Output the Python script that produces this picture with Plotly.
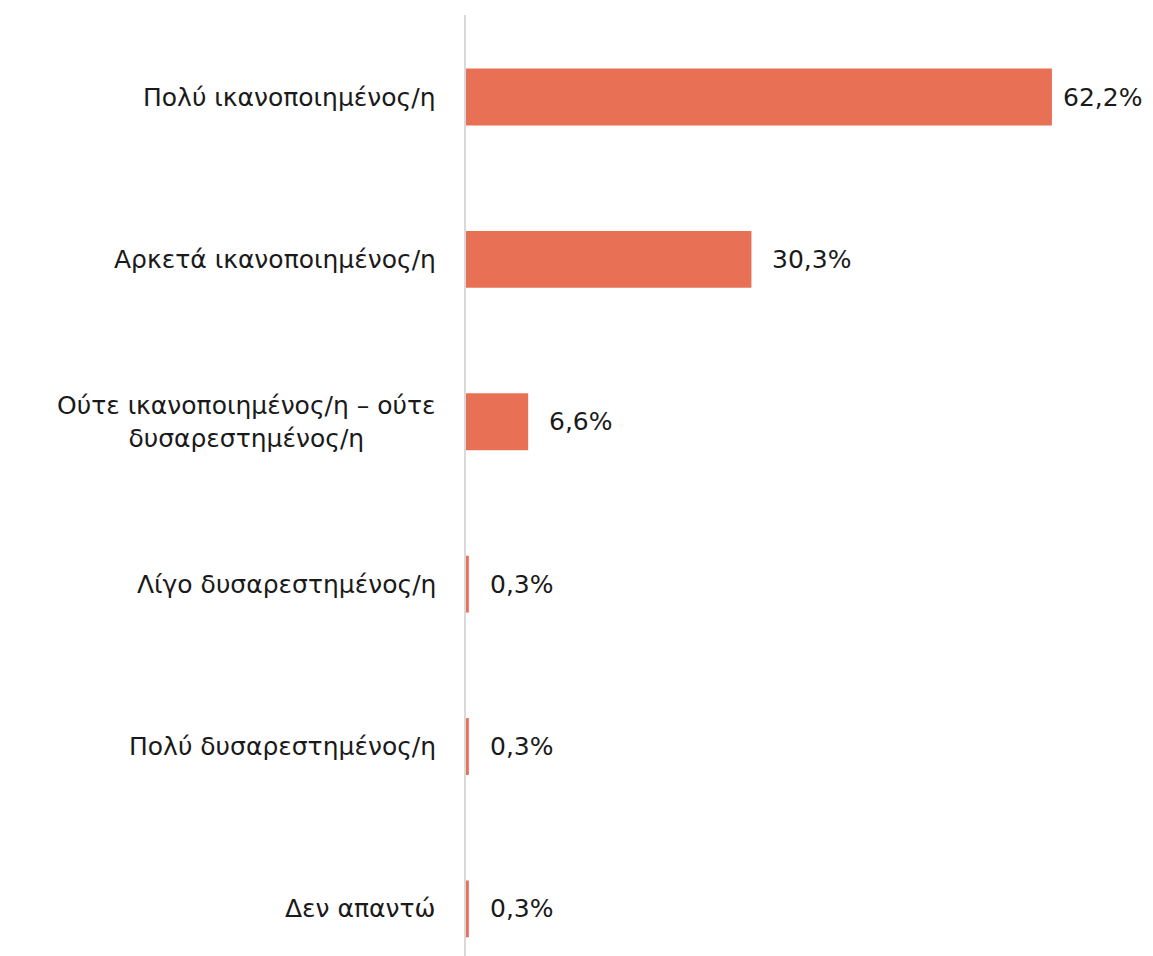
import plotly.graph_objects as go

categories = [
    "Πολύ ικανοποιημένος/η",
    "Αρκετά ικανοποιημένος/η",
    "Ούτε ικανοποιημένος/η – ούτε<br>δυσαρεστημένος/η",
    "Λίγο δυσαρεστημένος/η",
    "Πολύ δυσαρεστημένος/η",
    "Δεν απαντώ",
]
values = [62.2, 30.3, 6.6, 0.3, 0.3, 0.3]
value_labels = ["62,2%", "30,3%", "6,6%", "0,3%", "0,3%", "0,3%"]

BAR = "#E87055"
FONT = "DejaVu Sans"
TXT = "#1a1a1a"
FS = 25

fig = go.Figure(go.Bar(
    x=values, y=list(range(len(categories))), orientation="h",
    marker=dict(color=BAR, line=dict(width=0)),
    width=0.35, hoverinfo="skip",
))

ann = []
for i, (c, v, t) in enumerate(zip(categories, values, value_labels)):
    ann.append(dict(x=0, y=i, xref="x", yref="y", text=c, showarrow=False,
                    xanchor="right", yanchor="middle", align="center", xshift=-28,
                    font=dict(family=FONT, size=FS, color=TXT)))
    ann.append(dict(x=v, y=i, xref="x", yref="y", text=t, showarrow=False,
                    xanchor="left", yanchor="middle", xshift=9 if v > 50 else 19,
                    font=dict(family=FONT, size=FS, color=TXT)))

fig.update_layout(
    width=1145, height=948,
    margin=dict(l=458, r=0, t=7, b=0),
    paper_bgcolor="white", plot_bgcolor="white",
    showlegend=False,
    annotations=ann,
    xaxis=dict(range=[0, 72.93], showgrid=False, zeroline=False, showticklabels=False,
               showline=False, fixedrange=True),
    yaxis=dict(range=[5.29, -0.505], showgrid=False, zeroline=False, showticklabels=False,
               showline=True, linecolor="#d9d9d9", linewidth=2, fixedrange=True),
)

fig.write_html("out.html")
